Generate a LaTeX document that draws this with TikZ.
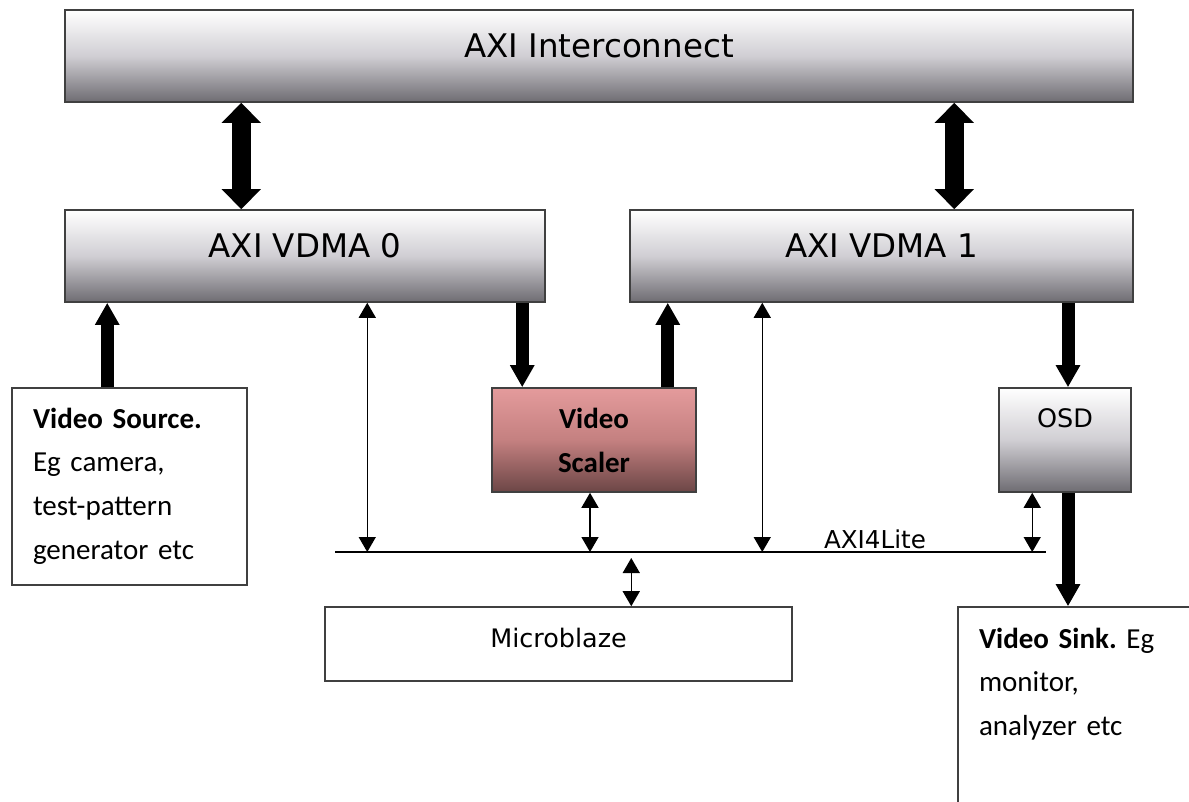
\documentclass[tikz,border=0pt]{standalone}
\usepackage{fontspec}
\newfontfamily\boxfont{DejaVu Sans}
\newfontfamily\notefont{Carlito}
\usepackage{tikz}
\usetikzlibrary{arrows.meta,calc}
\definecolor{shadelow}{RGB}{110,108,114}
\definecolor{shademid}{RGB}{208,206,211}
\definecolor{scalertop}{RGB}{228,155,156}
\definecolor{scalermid}{RGB}{196,128,128}
\definecolor{scalerlow}{RGB}{108,70,70}
\frenchspacing

\begin{document}
\begin{tikzpicture}[x=0.02cm, y=-0.02cm,
    greybox/.style={draw=black!75, line width=0.9pt, top color=white, bottom color=shadelow, middle color=shademid,
      font=\boxfont\fontsize{18.5}{22}\selectfont, text height=0.3cm, text depth=0.26cm},
    plainbox/.style={draw=black!75, line width=0.9pt, fill=white, font=\boxfont\fontsize{14.5}{17}\selectfont},
    notebox/.style={draw=black!75, line width=0.9pt, fill=white, align=left, inner xsep=0.42cm,
      font=\notefont\fontsize{16.5}{25}\selectfont},
    scalerbox/.style={draw=black!75, line width=0.9pt, top color=scalertop, bottom color=scalerlow, middle color=scalermid,
      align=center, font=\notefont\bfseries\fontsize{16.5}{25}\selectfont},
    fat/.style={line width=0.26cm, -{Triangle[width=0.46cm, length=0.44cm]}},
    fatboth/.style={line width=0.38cm, {Triangle[width=0.76cm, length=0.4cm]}-{Triangle[width=0.76cm, length=0.4cm]}},
    thinboth/.style={line width=0.8pt, {Triangle[width=0.34cm, length=0.3cm]}-{Triangle[width=0.34cm, length=0.3cm]}}]
  \useasboundingbox (0,0) rectangle (1189,801);
  \clip (0,0) rectangle (1189,801);
  \fill[white] (0,0) rectangle (1189,801);

  \node[greybox, minimum width=21.36cm, minimum height=1.84cm] (axi) at (599,56) {AXI Interconnect};
  \node[greybox, minimum width=9.6cm, minimum height=1.84cm] (vdma0) at (305,256) {AXI VDMA 0};
  \node[greybox, minimum width=10.06cm, minimum height=1.84cm] (vdma1) at (881.5,256) {AXI VDMA 1};
  \node[notebox, text width=3.86cm, text height=0.4cm, text depth=2.74cm, minimum height=3.94cm] (src) at (129.5,486.5)
    {\textbf{Video Source.}\\Eg camera,\\test-pattern\\generator etc};
  \node[scalerbox, minimum width=4.08cm, minimum height=2.08cm] (scaler) at (594,440) {Video\\Scaler};
  \node[greybox, font=\boxfont\fontsize{14.5}{17}\selectfont, text height=0.3cm, text depth=0.82cm,
    minimum width=2.64cm, minimum height=2.08cm] (osd) at (1065,440) {OSD};
  \node[plainbox, text height=0.3cm, text depth=0.18cm, minimum width=9.34cm, minimum height=1.48cm] (micro) at (558.5,644) {Microblaze};
  \node[notebox, text width=4.0cm, text height=0.4cm, text depth=2.92cm, minimum height=4.16cm] (sink) at (1079,711)
    {\textbf{Video Sink.} Eg\\monitor,\\analyzer etc};

  % AXI4Lite bus
  \coordinate (busL) at (335,552);
  \coordinate (busR) at (1046,552);
  \draw[line width=1pt] (busL) -- (busR);
  \node[font=\boxfont\fontsize{14}{17}\selectfont, anchor=base] (lite) at (875,548) {AXI4Lite};

  % video paths
  \path ($(vdma0.north west)+(177,0)$) coordinate (p1)
        ($(vdma1.north west)+(325,0)$) coordinate (p2)
        ($(src.north west)+(96,0)$) coordinate (p3)
        ($(scaler.north west)+(31,0)$) coordinate (p4)
        ($(scaler.north east)+(-29,0)$) coordinate (p5)
        ($(osd.north)+(3,0)$) coordinate (p6)
        ($(osd.south)+(3,0)$) coordinate (p7);
  \draw[fatboth] (p1) -- (p1 |- axi.south);
  \draw[fatboth] (p2) -- (p2 |- axi.south);
  \draw[fat] (p3) -- (p3 |- vdma0.south);
  \draw[fat] (p4 |- vdma0.south) -- (p4);
  \draw[fat] (p5) -- (p5 |- vdma1.south);
  \draw[fat] (p6 |- vdma1.south) -- (p6);
  \draw[fat] (p7) -- (p7 |- sink.north);

  % control paths
  \draw[thinboth] ($(vdma0.south west)+(303,0)$) coordinate (t1) -- (t1 |- busL);
  \draw[thinboth] ($(scaler.south)+(-4,0)$) coordinate (t2) -- (t2 |- busL);
  \draw[thinboth] ($(vdma1.south west)+(133,0)$) coordinate (t3) -- (t3 |- busL);
  \draw[thinboth] ($(osd.south west)+(34,0)$) coordinate (t4) -- (t4 |- busL);
  \draw[thinboth] ($(micro.north west)+(307,0)$) coordinate (t5) -- ($(t5 |- busL)+(0,6)$);
\end{tikzpicture}
\end{document}
